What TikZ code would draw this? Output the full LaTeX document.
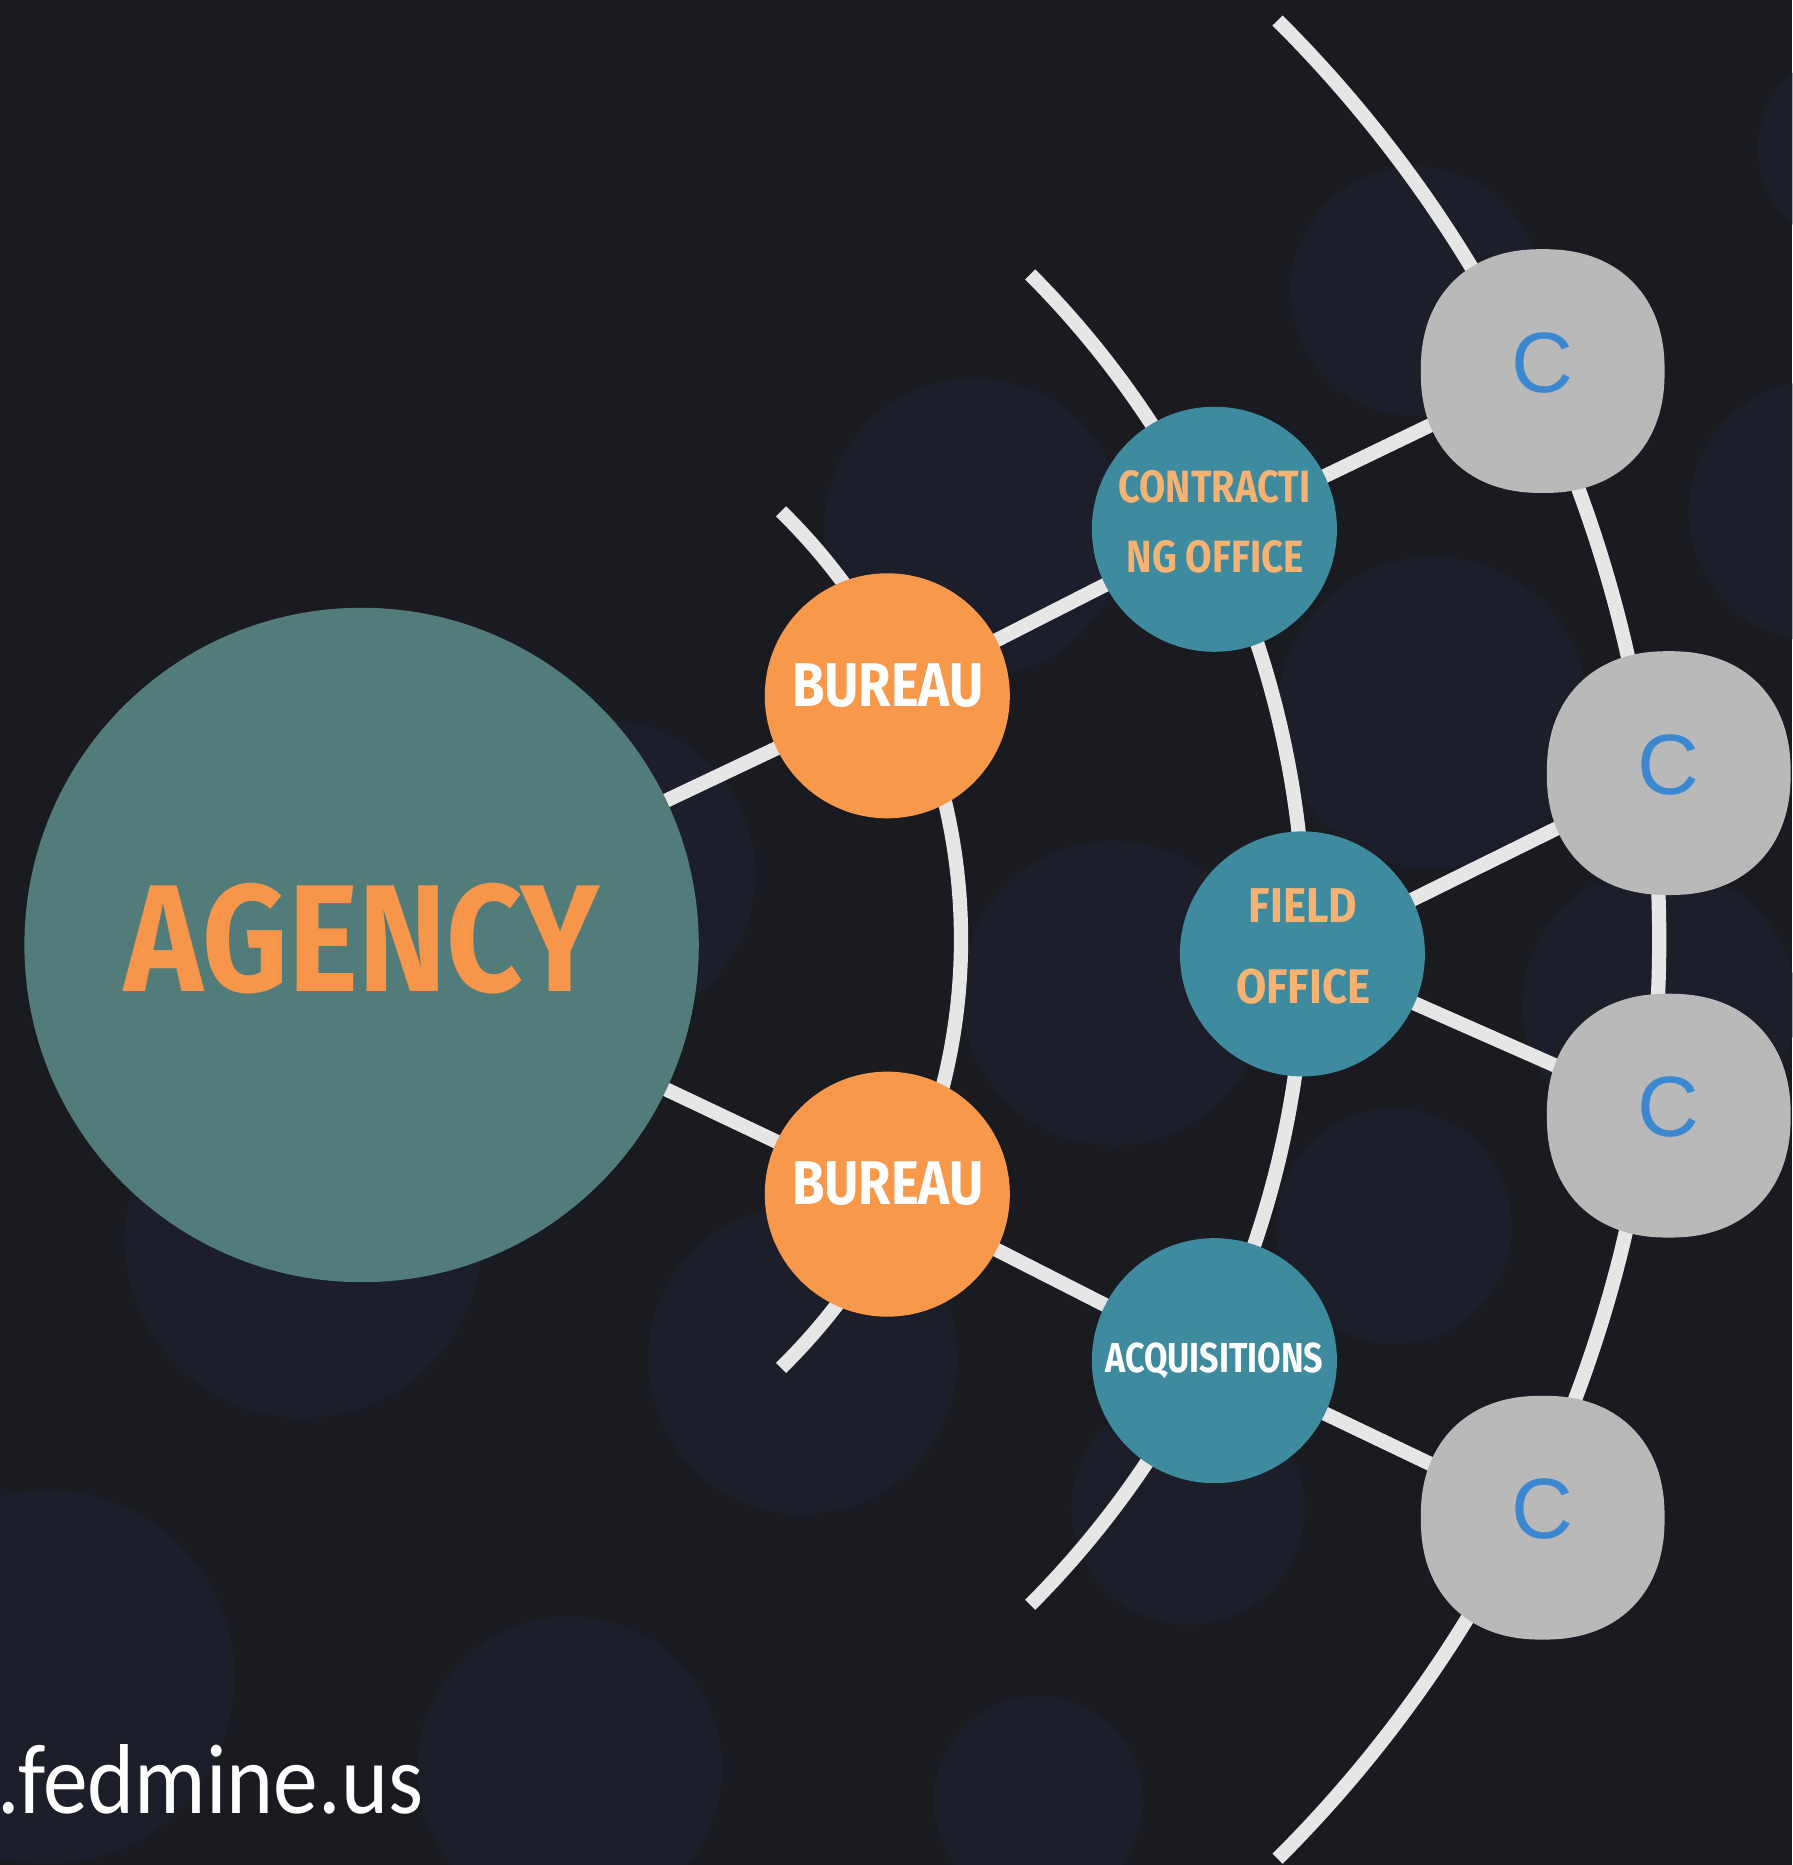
\documentclass[tikz,border=0pt]{standalone}
\usepackage{fontspec}
\usepackage{graphicx}
\usetikzlibrary{calc}
\newfontfamily\firab{Fira Sans}
\newfontfamily\cfont{Liberation Sans}
\newfontfamily\urlfont{Carlito}
\definecolor{bgdark}{HTML}{1A1B20}
\definecolor{bgdisc}{HTML}{1C1E2A}
\definecolor{agencyfill}{HTML}{517C79}
\definecolor{orangefill}{HTML}{F7984A}
\definecolor{agencytext}{HTML}{F7954A}
\definecolor{tealfill}{HTML}{3E8A9E}
\definecolor{lightorange}{HTML}{F5B273}
\definecolor{cgray}{HTML}{B9B9B9}
\definecolor{cblue}{HTML}{3B88D0}
\definecolor{trackgray}{HTML}{E6E6E6}
\pgfdeclarelayer{bglayer}
\pgfdeclarelayer{linelayer}
\pgfsetlayers{bglayer,linelayer,main}
\newcommand{\lab}[3]{\resizebox{#1pt}{#2pt}{\firab\bfseries #3}}
\newcommand{\squircle}[1]{\fill[cgray,shift={(#1.center)}] plot[domain=1:359,samples=180] ({102.5*sign(cos(\x))*abs(cos(\x))^0.89},{102.5*sign(sin(\x))*abs(sin(\x))^0.89}) -- cycle;}
\begin{document}
\begin{tikzpicture}[x=1pt,y=1pt,
  disc/.style={fill=bgdisc},
  track/.style={draw=trackgray,line width=12pt},
  agencynode/.style={circle,fill=agencyfill,minimum size=567pt,inner sep=0pt},
  bureaunode/.style={circle,fill=orangefill,minimum size=206pt,inner sep=0pt},
  officenode/.style={circle,fill=tealfill,minimum size=206pt,inner sep=0pt},
  cnode/.style={rectangle,minimum size=205pt,inner sep=0pt},
  lbl/.style={inner sep=0pt,anchor=base},
  cletter/.style={inner sep=0pt,text=cblue,font=\cfont\fontsize{72}{72}\selectfont}]
\useasboundingbox (0,0) rectangle (1507,1568);
\begin{pgfonlayer}{bglayer}
\clip (0,0) rectangle (1507,1568);
\fill[bgdark] (0,0) rectangle (1507,1568);
\fill[disc] (819,1124) circle[radius=126];
\fill[disc] (1190,1323) circle[radius=105];
\fill[disc] (1563,1443) circle[radius=85];
\fill[disc] (1530,1138) circle[radius=110];
\fill[disc] (936,733) circle[radius=128];
\fill[disc] (1205,969) circle[radius=131];
\fill[disc] (1395,723) circle[radius=115];
\fill[disc] (1172,537) circle[radius=99];
\fill[disc] (675,425) circle[radius=130];
\fill[disc] (999,300) circle[radius=98];
\fill[disc] (255,526) circle[radius=150];
\fill[disc] (505,833) circle[radius=130];
\fill[disc] (40,158) circle[radius=157];
\fill[disc] (479,81) circle[radius=128];
\fill[disc] (873,54) circle[radius=88];
\end{pgfonlayer}

% nodes
\node[agencynode] (agency) at (304,773.5) {};
\node[bureaunode] (b1) at (746,983) {};
\node[bureaunode] (b2) at (746,564) {};
\node[officenode] (contract) at (1021,1123) {};
\node[officenode] (field) at (1095,766) {};
\node[officenode] (acq) at (1021,424) {};
\node[cnode] (c1) at (1297,1256) {};
\node[cnode] (c2) at (1403,918) {};
\node[cnode] (c3) at (1403,630) {};
\node[cnode] (c4) at (1297,292) {};
\squircle{c1}
\squircle{c2}
\squircle{c3}
\squircle{c4}

% labels
\node[lbl,text=agencytext] (agencyt) at (304.5,734) {\lab{399}{91}{AGENCY}};
\node[lbl,text=white] (b1t) at (746.5,974) {\lab{161}{36}{BUREAU}};
\node[lbl,text=white] (b2t) at (746.5,555) {\lab{161}{36}{BUREAU}};
\node[lbl,text=lightorange] (contractta) at (1021,1145.4) {\lab{161}{27}{CONTRACTI}};
\node[lbl,text=lightorange] (contracttb) at (1021.6,1086.5) {\lab{149}{27}{NG OFFICE}};
\node[lbl,text=lightorange] (fieldta) at (1095.5,792.5) {\lab{91}{28.5}{FIELD}};
\node[lbl,text=lightorange] (fieldtb) at (1095.8,724.7) {\lab{113}{29}{OFFICE}};
\node[lbl,text=white] (acqt) at (1021,414) {\lab{183}{25}{ACQUISITIONS}};
\node[cletter] (c1t) at ([yshift=7pt]c1.center) {C};
\node[cletter] (c2t) at ([yshift=7pt]c2.center) {C};
\node[cletter] (c3t) at ([yshift=7pt]c3.center) {C};
\node[cletter] (c4t) at ([yshift=7pt]c4.center) {C};
\node[inner sep=0pt,anchor=base east,text=white] (url) at (356,43) {\resizebox{358pt}{58pt}{\urlfont .fedmine.us}};

% connectors
\begin{pgfonlayer}{linelayer}
\coordinate (hub) at ([yshift=4.5pt]agency.center);
\draw[track] (agency.center) -- (b1.center);
\draw[track] (agency.center) -- (b2.center);
\draw[track] (b1.center) -- (contract.center);
\draw[track] (b2.center) -- (acq.center);
\draw[track] (contract.center) -- (c1.center);
\draw[track] (field.center) -- (c2.center);
\draw[track] (field.center) -- (c3.center);
\draw[track] (acq.center) -- (c4.center);
\coordinate (arcAtop) at ($(hub)+(45.6:504)$);
\coordinate (arcBtop) at ($(hub)+(44.85:793)$);
\coordinate (arcCtop) at ($(hub)+(45.1:1091)$);
\draw[track] (arcAtop) arc[start angle=45.6,end angle=-45.6,radius=504pt];
\draw[track] (arcBtop) arc[start angle=44.85,end angle=-44.85,radius=793pt];
\draw[track] (arcCtop) arc[start angle=45.1,end angle=-45.1,radius=1091pt];
\end{pgfonlayer}
\end{tikzpicture}
\end{document}
